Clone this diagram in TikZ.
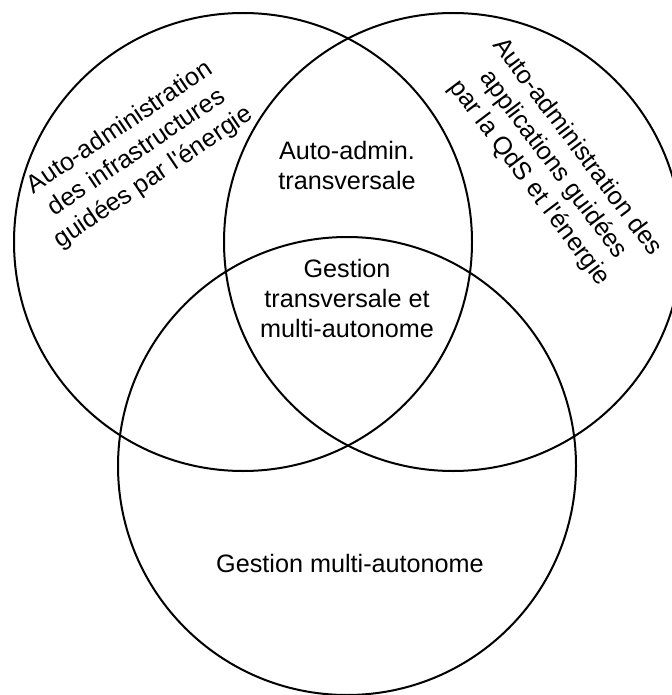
\documentclass[tikz,border=0pt]{standalone}
\usepackage{fontspec}
\setmainfont{Liberation Sans}
\begin{document}
\begin{tikzpicture} [x = 0.5pt, y = -0.5pt, line width = 1pt,
	every node/.style = {align = center, font = \fontsize{12.6}{15}\selectfont}]
	\useasboundingbox (0,0) rectangle (672,695);
	\draw (243,242) circle [radius = 114.5pt];
	\draw (453,242) circle [radius = 114.5pt];
	\draw (347,466) circle [radius = 114.5pt];
	\node (infra) [rotate = 34] at (137,153) {Auto-administration\\des infrastructures\\guidées par l\textquotesingle énergie};
	\node (appli) [rotate = -53] at (553,165) {Auto-administration des\\applications guidées\\par la QdS et l\textquotesingle énergie};
	\node (transv) at (347,165) {Auto-admin.\\transversale};
	\node (gestion) at (347,298) {Gestion\\transversale et\\multi-autonome};
	\node (multi) at (350,563) {Gestion multi-autonome};
	\end{tikzpicture}
\end{document}
